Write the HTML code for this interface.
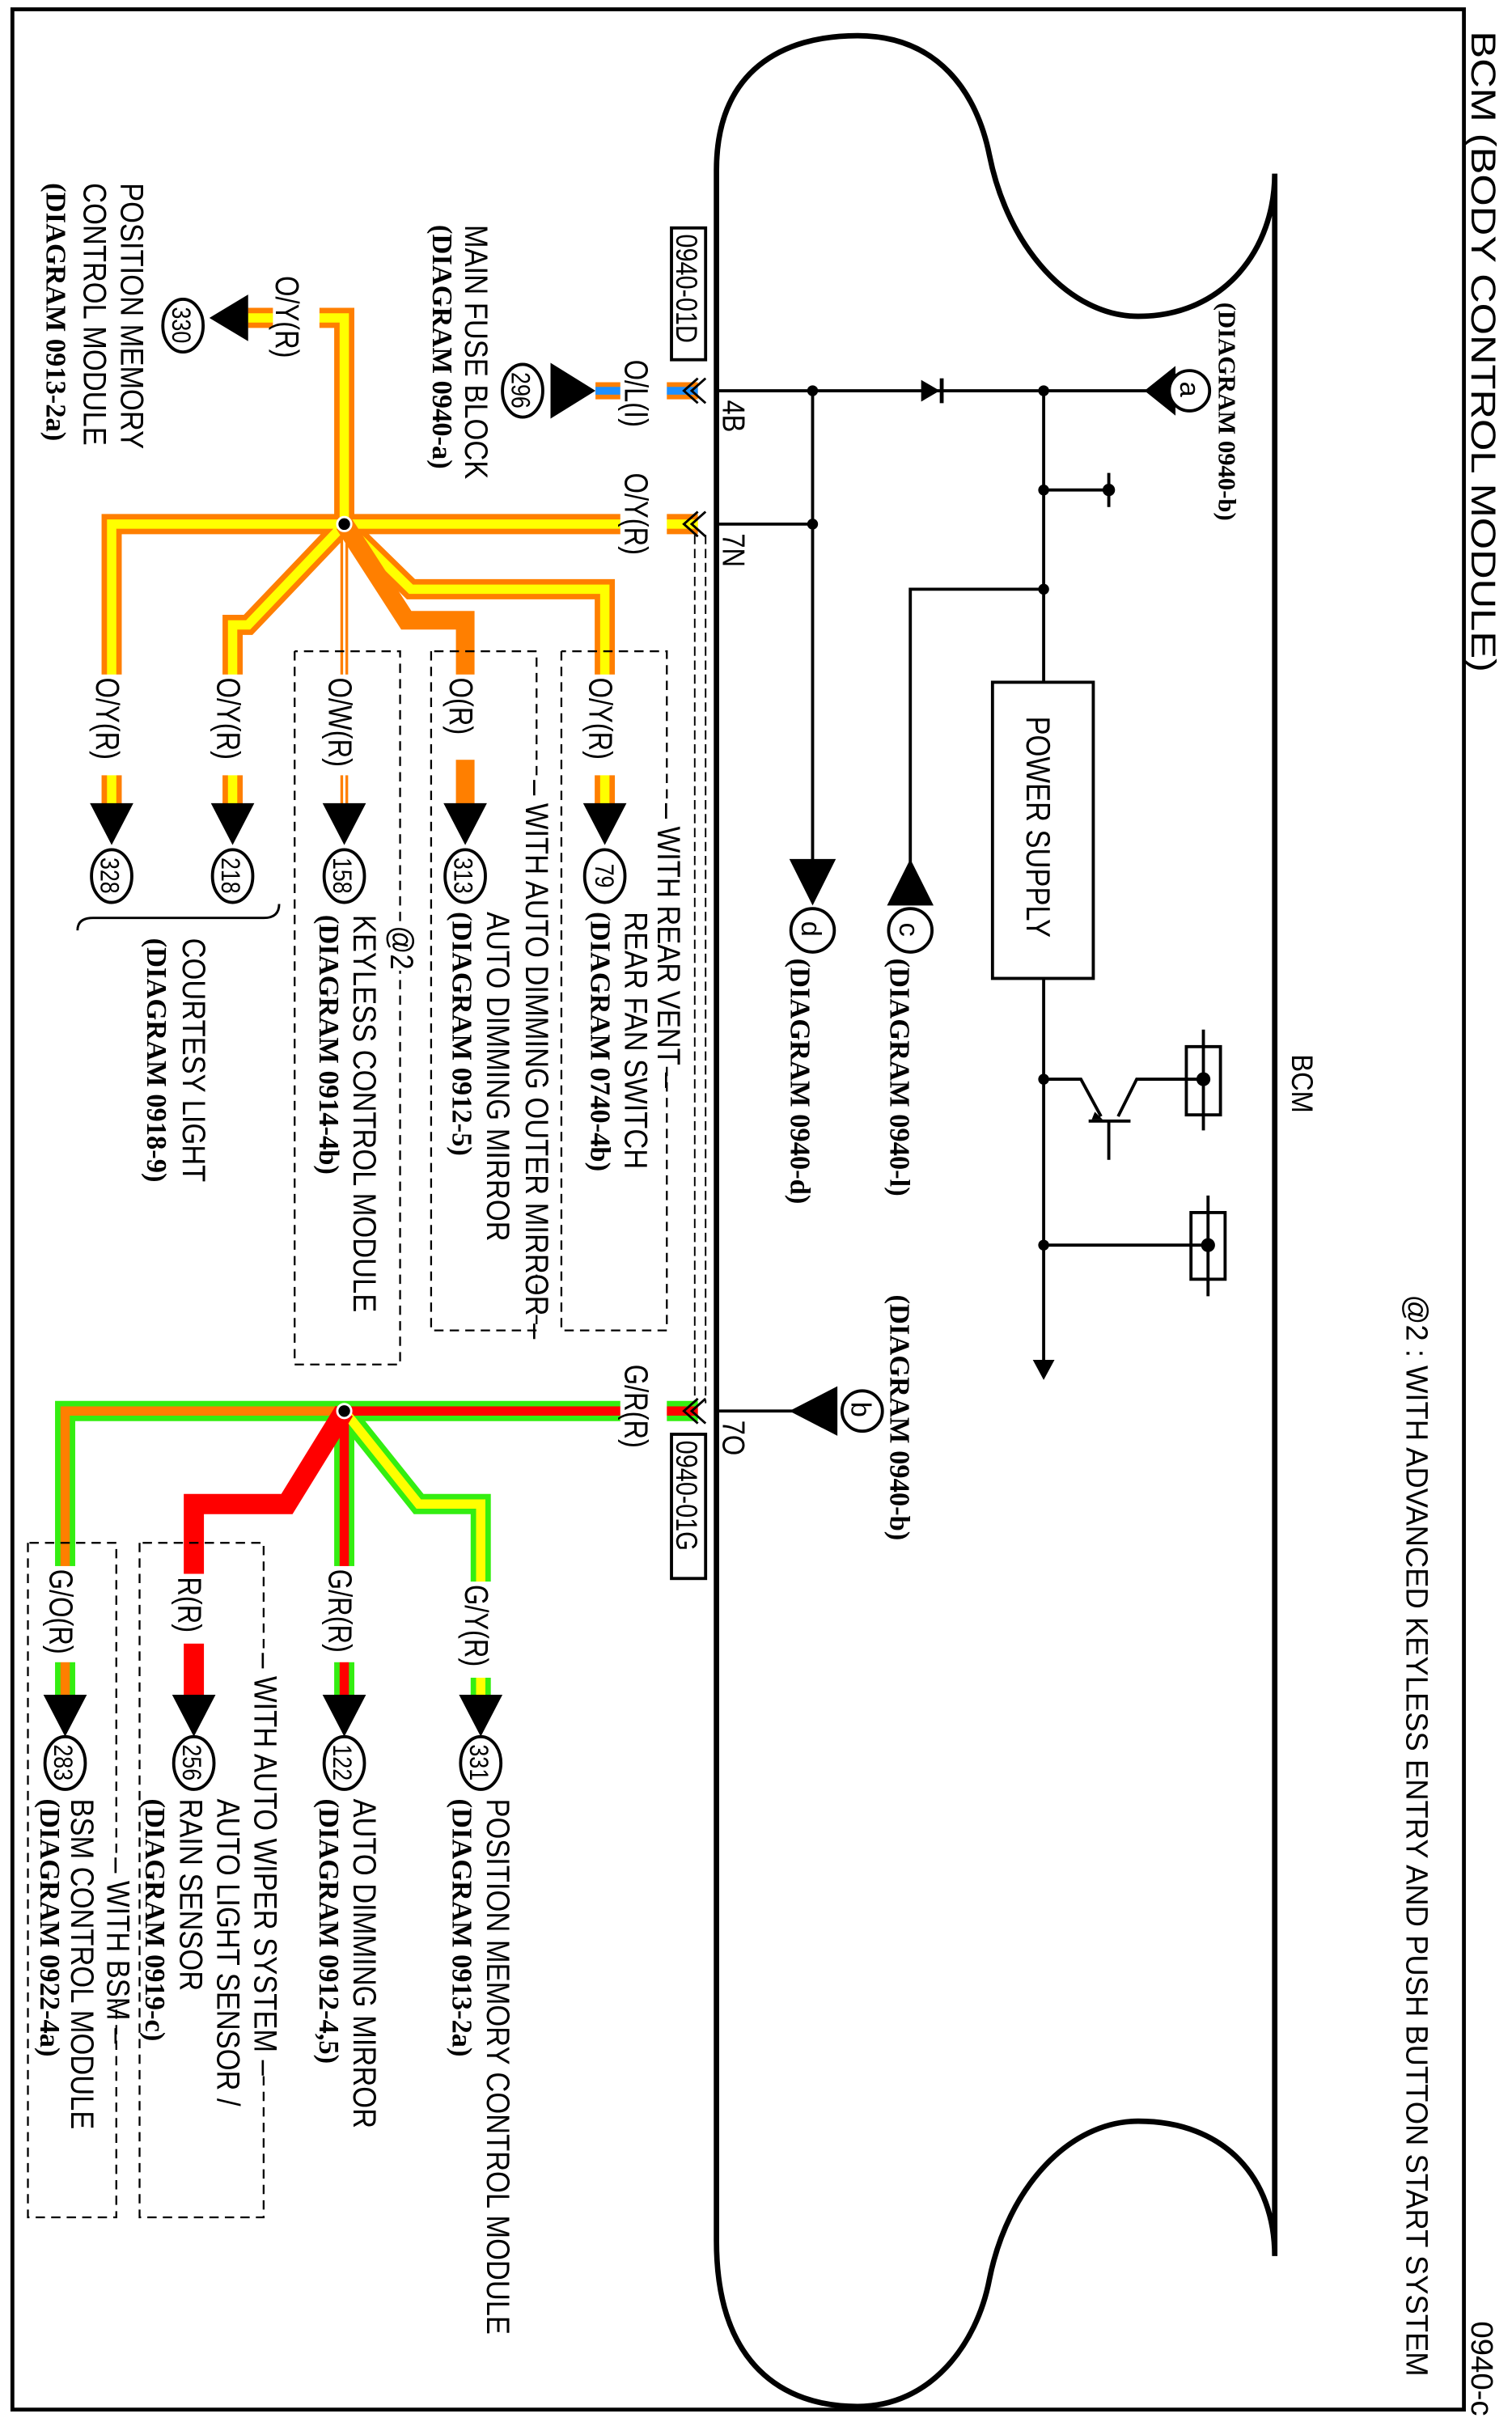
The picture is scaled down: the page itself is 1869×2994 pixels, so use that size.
<!DOCTYPE html>
<html><head><meta charset="utf-8"><style>html,body{margin:0;padding:0;background:#fff}svg{display:block}</style></head><body>
<svg width="1869" height="2994" viewBox="0 0 975 1562" preserveAspectRatio="none" xmlns="http://www.w3.org/2000/svg" font-family="Liberation Sans, sans-serif">
<rect x="0" y="0" width="975" height="1562" fill="#fff"/>
<rect x="8" y="6" width="936" height="1548" fill="none" stroke="#000" stroke-width="2.5"/>
<g font-size="22"><text transform="translate(949,20) rotate(90) scale(1.2,1)">BCM (BODY CONTROL MODULE)</text>
<text transform="translate(949,1497) rotate(90)" font-size="20">0940-c</text></g>
<text transform="translate(907,835) rotate(90) scale(1,1.05)" font-size="19">@2 : WITH ADVANCED KEYLESS ENTRY AND PUSH BUTTON START SYSTEM</text>
<!-- BCM outline -->
<path d="M462,1445 L462,110 C462,45 505,23 553,23 C605,23 630,60 638,100 C650,160 690,204 734,204 C790,204 822,160 822,112 L822,1455 C822,1405 790,1368 734,1368 C690,1368 650,1410 638,1470 C630,1512 600,1552 553,1552 C505,1552 462,1525 462,1445 Z" fill="none" stroke="#000" stroke-width="3.5"/>
<text transform="translate(833,680) rotate(90) scale(1,1.15)" font-size="17">BCM</text>
<!-- internal circuit -->
<g stroke="#000" stroke-width="2" fill="none">
<path d="M462,252 H740"/><path d="M524,252 V556"/><path d="M462,338 H524"/>
<path d="M673,252 V440"/><path d="M673,316 H715"/><path d="M715,305 V327"/>
<path d="M673,380 H587 V556"/>
<path d="M673,631 V878"/>
<path d="M673,696 H697 L710,720"/><path d="M702,723 H729"/><path d="M715,723 V748"/><path d="M721,720 L733,696 H776"/>
<path d="M776,664 V729"/><path d="M779,771 V836"/>
<path d="M673,803 H779"/>
<path d="M462,910 H512"/>
</g>
<path d="M706,717 L711,722 L704,722Z" fill="#000"/>
<rect x="640" y="440" width="65" height="191" fill="#fff" stroke="#000" stroke-width="2"/>
<text transform="translate(662,462) rotate(90) scale(1,1.2)" font-size="18">POWER SUPPLY</text>
<g stroke="#000" stroke-width="2" fill="none"><rect x="765" y="675" width="22" height="44"/><rect x="768" y="782" width="22" height="43"/></g>
<g fill="#000"><circle cx="776" cy="696" r="4.5"/><circle cx="779" cy="803" r="4.5"/>
<circle cx="524" cy="252" r="3.5"/><circle cx="673" cy="252" r="3.5"/><circle cx="524" cy="338" r="3.5"/><circle cx="673" cy="316" r="3.5"/><circle cx="673" cy="380" r="3.5"/><circle cx="673" cy="696" r="3.5"/><circle cx="673" cy="803" r="3.5"/><circle cx="715" cy="316" r="4"/>
<path d="M594,245 L606,252 L594,259Z"/><rect x="606" y="244" width="2.5" height="16"/>
<path d="M666,877 L680,877 L673,890Z"/>
<path d="M738,252 L758,236 L758,268Z"/>
<path d="M509,554 L539,554 L524,584Z"/>
<path d="M572,584 L602,584 L587,554Z"/>
<path d="M509,910 L540,894 L540,926Z"/>
</g>
<g fill="#fff" stroke="#000" stroke-width="2"><circle cx="767" cy="252" r="13"/><circle cx="524" cy="600" r="14"/><circle cx="587" cy="600" r="14"/><circle cx="556" cy="910" r="13"/></g>
<g font-size="18"><text transform="translate(761,246) rotate(90)">a</text><text transform="translate(517,594) rotate(90)">d</text><text transform="translate(580,595) rotate(90)">c</text><text transform="translate(549,904) rotate(90)">b</text></g>
<g font-family="Liberation Serif, serif" font-weight="bold" font-size="18">
<text transform="translate(786,195) rotate(90)" font-size="16">(DIAGRAM 0940-b)</text>
<text transform="translate(510,618) rotate(90)">(DIAGRAM 0940-d)</text>
<text transform="translate(574,618) rotate(90)">(DIAGRAM 0940-l)</text>
<text transform="translate(574,835) rotate(90)">(DIAGRAM 0940-b)</text>
</g>
<g font-size="17"><text transform="translate(466,258) rotate(90) scale(1,1.2)">4B</text><text transform="translate(466,344) rotate(90) scale(1,1.2)">7N</text><text transform="translate(466,916) rotate(90) scale(1,1.2)">7O</text></g>
<!-- connectors -->
<g fill="#fff" stroke="#000" stroke-width="2"><rect x="433" y="147" width="22" height="85"/><rect x="433" y="925" width="22" height="93"/></g>
<g font-size="16"><text transform="translate(436,151) rotate(90) scale(1,1.2)">0940-01D</text><text transform="translate(436,929) rotate(90) scale(1,1.2)">0940-01G</text></g>
<path d="M448,345 V905 M455,345 V905" stroke="#000" stroke-width="1" stroke-dasharray="6,3"/>
<!-- wires top -->
<g fill="none" stroke-linejoin="miter">
<path d="M384,252 H450" stroke="#ff7f00" stroke-width="11"/><path d="M384,252 H450" stroke="#1e90ff" stroke-width="5"/>
<g stroke="#ff7f00" stroke-width="13">
<path d="M222,338 H450"/><path d="M222,338 V205 H160"/><path d="M222,338 H72 V520"/><path d="M222,338 L160,403 H150 V520"/><path d="M222,338 L265,380 H390 V520"/>
</g>
<g stroke="#ffff00" stroke-width="6">
<path d="M222,338 H450"/><path d="M222,338 V205 H160"/><path d="M222,338 H72 V520"/><path d="M222,338 L160,403 H150 V520"/><path d="M222,338 L265,380 H390 V520"/>
</g>
<path d="M222,338 V520" stroke="#ff7f00" stroke-width="5"/><path d="M222,338 V520" stroke="#fff" stroke-width="1.5"/>
<path d="M222,338 L262,400 H300 V520" stroke="#ff7f00" stroke-width="12"/>
<!-- wires bottom -->
<g stroke="#33ee11" stroke-width="13"><path d="M222,910 H450"/><path d="M222,910 H42 V1095"/><path d="M222,910 V1095"/><path d="M222,910 L270,970 H310 V1095"/></g>
<path d="M222,910 H450" stroke="#ff0000" stroke-width="6"/>
<path d="M222,910 H42 V1095" stroke="#ff7f00" stroke-width="6"/>
<path d="M222,910 V1095" stroke="#ff0000" stroke-width="6"/>
<path d="M222,910 L270,970 H310 V1095" stroke="#ffff00" stroke-width="6"/>
<path d="M222,910 L185,970 H125 V1095" stroke="#ff0000" stroke-width="13"/>
</g>
<!-- label backgrounds -->
<g fill="#fff"><rect x="400" y="232" width="30" height="46"/><rect x="400" y="305" width="30" height="65"/><rect x="176" y="175" width="30" height="62"/>
<rect x="58" y="435" width="30" height="65"/><rect x="136" y="435" width="30" height="65"/><rect x="208" y="435" width="30" height="65"/><rect x="286" y="435" width="30" height="55"/><rect x="376" y="435" width="30" height="65"/>
<rect x="400" y="878" width="30" height="65"/>
<rect x="28" y="1010" width="30" height="62"/><rect x="111" y="1015" width="30" height="45"/><rect x="208" y="1010" width="30" height="62"/><rect x="296" y="1020" width="30" height="62"/>
<rect x="420" y="515" width="20" height="170"/><rect x="336" y="500" width="20" height="322"/><rect x="250" y="594" width="16" height="30"/><rect x="160" y="1063" width="20" height="272"/><rect x="66" y="1195" width="18" height="95"/></g>
<g font-size="17">
<text transform="translate(403,232) rotate(90) scale(1,1.25)">O/L(I)</text><text transform="translate(403,305) rotate(90) scale(1,1.25)">O/Y(R)</text><text transform="translate(178,178) rotate(90) scale(1,1.25)">O/Y(R)</text>
<text transform="translate(62,437) rotate(90) scale(1,1.25)">O/Y(R)</text><text transform="translate(140,437) rotate(90) scale(1,1.25)">O/Y(R)</text><text transform="translate(212,437) rotate(90) scale(1,1.25)">O/W(R)</text><text transform="translate(290,437) rotate(90) scale(1,1.25)">O(R)</text><text transform="translate(380,437) rotate(90) scale(1,1.25)">O/Y(R)</text>
<text transform="translate(403,880) rotate(90) scale(1,1.25)">G/R(R)</text>
<text transform="translate(32,1012) rotate(90) scale(1,1.25)">G/O(R)</text><text transform="translate(115,1017) rotate(90) scale(1,1.25)">R(R)</text><text transform="translate(212,1012) rotate(90) scale(1,1.25)">G/R(R)</text><text transform="translate(300,1022) rotate(90) scale(1,1.25)">G/Y(R)</text>
</g>
<!-- chevrons -->
<g fill="none" stroke="#000" stroke-width="1.5"><path d="M455,244 L446,252 L455,260 M450,244 L441,252 L450,260"/><path d="M455,330 L446,338 L455,346 M450,330 L441,338 L450,346"/><path d="M455,902 L446,910 L455,918 M450,902 L441,910 L450,918"/></g>
<!-- arrows & circles -->
<g fill="#000">
<path d="M355,234 L355,270 L384,252Z"/><path d="M160,190 L160,220 L135,205Z"/>
<path d="M58,518 L86,518 L72,545Z"/><path d="M136,518 L164,518 L150,545Z"/><path d="M208,518 L236,518 L222,545Z"/><path d="M286,518 L314,518 L300,545Z"/><path d="M376,518 L404,518 L390,545Z"/>
<path d="M28,1093 L56,1093 L42,1120Z"/><path d="M111,1093 L139,1093 L125,1120Z"/><path d="M208,1093 L236,1093 L222,1120Z"/><path d="M296,1093 L324,1093 L310,1120Z"/>
</g>
<g fill="#fff" stroke="#000" stroke-width="2">
<ellipse cx="337" cy="252" rx="13" ry="17"/><ellipse cx="118" cy="210" rx="13" ry="17"/>
<ellipse cx="72" cy="565" rx="13" ry="17"/><ellipse cx="150" cy="565" rx="13" ry="17"/><ellipse cx="222" cy="565" rx="13" ry="17"/><ellipse cx="300" cy="565" rx="13" ry="17"/><ellipse cx="390" cy="565" rx="13" ry="17"/>
<ellipse cx="42" cy="1137" rx="13" ry="17"/><ellipse cx="125" cy="1137" rx="13" ry="17"/><ellipse cx="222" cy="1137" rx="13" ry="17"/><ellipse cx="310" cy="1137" rx="13" ry="17"/>
</g>
<g font-size="14">
<text transform="translate(330,240) rotate(90) scale(1,1.2)">296</text><text transform="translate(111,198) rotate(90) scale(1,1.2)">330</text>
<text transform="translate(65,553) rotate(90) scale(1,1.2)">328</text><text transform="translate(143,553) rotate(90) scale(1,1.2)">218</text><text transform="translate(215,553) rotate(90) scale(1,1.2)">158</text><text transform="translate(293,553) rotate(90) scale(1,1.2)">313</text><text transform="translate(384,557) rotate(90) scale(1,1.2)">79</text>
<text transform="translate(35,1125) rotate(90) scale(1,1.2)">283</text><text transform="translate(118,1125) rotate(90) scale(1,1.2)">256</text><text transform="translate(215,1125) rotate(90) scale(1,1.2)">122</text><text transform="translate(303,1125) rotate(90) scale(1,1.2)">331</text>
</g>
<circle cx="222" cy="338" r="4.5" fill="#000" stroke="#fff" stroke-width="1.5"/><circle cx="222" cy="910" r="4.5" fill="#000" stroke="#fff" stroke-width="1.5"/>
<!-- dashed boxes -->
<g fill="none" stroke="#000" stroke-width="1.2" stroke-dasharray="6,4">
<path d="M190,420 V880 H258 V626 M258,594 V420 H190"/>
<path d="M278,420 V858 H346 V822 M346,500 V420 H278"/>
<path d="M362,420 V858 H430 V685 M430,515 V420 H362"/>
<path d="M18,995 V1430 H75 V1290 M75,1195 V995 H18"/>
<path d="M90,995 V1430 H170 V1335 M170,1063 V995 H90"/>
</g>
<!-- text blocks -->
<g font-size="18">
<text transform="translate(300,145) rotate(90) scale(1,1.15)">MAIN FUSE BLOCK</text>
<text transform="translate(78,118) rotate(90) scale(1,1.15)">POSITION MEMORY</text><text transform="translate(54,118) rotate(90) scale(1,1.15)">CONTROL MODULE</text>
<text transform="translate(403,588) rotate(90) scale(1,1.15)">REAR FAN SWITCH</text>
<text transform="translate(424,518) rotate(90) scale(1,1.15)">– WITH REAR VENT –</text>
<text transform="translate(314,588) rotate(90) scale(1,1.15)">AUTO DIMMING MIRROR</text>
<text transform="translate(339,503) rotate(90) scale(1,1.15)">– WITH AUTO DIMMING OUTER MIRROR –</text>
<text transform="translate(252,597) rotate(90) scale(1,1.15)">@2</text>
<text transform="translate(228,590) rotate(90) scale(1,1.15)">KEYLESS CONTROL MODULE</text>
<text transform="translate(118,605) rotate(90) scale(1,1.15)">COURTESY LIGHT</text>
<text transform="translate(314,1160) rotate(90) scale(1,1.15)">POSITION MEMORY CONTROL MODULE</text>
<text transform="translate(228,1160) rotate(90) scale(1,1.15)">AUTO DIMMING MIRROR</text>
<text transform="translate(164,1066) rotate(90) scale(1,1.15)">– WITH AUTO WIPER SYSTEM –</text>
<text transform="translate(140,1160) rotate(90) scale(1,1.15)">AUTO LIGHT SENSOR /</text>
<text transform="translate(116,1160) rotate(90) scale(1,1.15)">RAIN SENSOR</text>
<text transform="translate(69,1198) rotate(90) scale(1,1.15)">– WITH BSM –</text>
<text transform="translate(46,1160) rotate(90) scale(1,1.15)">BSM CONTROL MODULE</text>
</g>
<g font-family="Liberation Serif, serif" font-weight="bold" font-size="18">
<text transform="translate(279,145) rotate(90)">(DIAGRAM 0940-a)</text>
<text transform="translate(30,118) rotate(90)">(DIAGRAM 0913-2a)</text>
<text transform="translate(381,588) rotate(90)">(DIAGRAM 0740-4b)</text>
<text transform="translate(292,588) rotate(90)">(DIAGRAM 0912-5)</text>
<text transform="translate(206,590) rotate(90)">(DIAGRAM 0914-4b)</text>
<text transform="translate(95,605) rotate(90)">(DIAGRAM 0918-9)</text>
<text transform="translate(292,1160) rotate(90)">(DIAGRAM 0913-2a)</text>
<text transform="translate(206,1160) rotate(90)">(DIAGRAM 0912-4,5)</text>
<text transform="translate(94,1160) rotate(90)">(DIAGRAM 0919-c)</text>
<text transform="translate(26,1160) rotate(90)">(DIAGRAM 0922-4a)</text>
</g>
<path d="M180,583 Q180,592 170,592 H60 Q50,592 50,600" fill="none" stroke="#000" stroke-width="1.5"/>
</svg>
</body></html>
